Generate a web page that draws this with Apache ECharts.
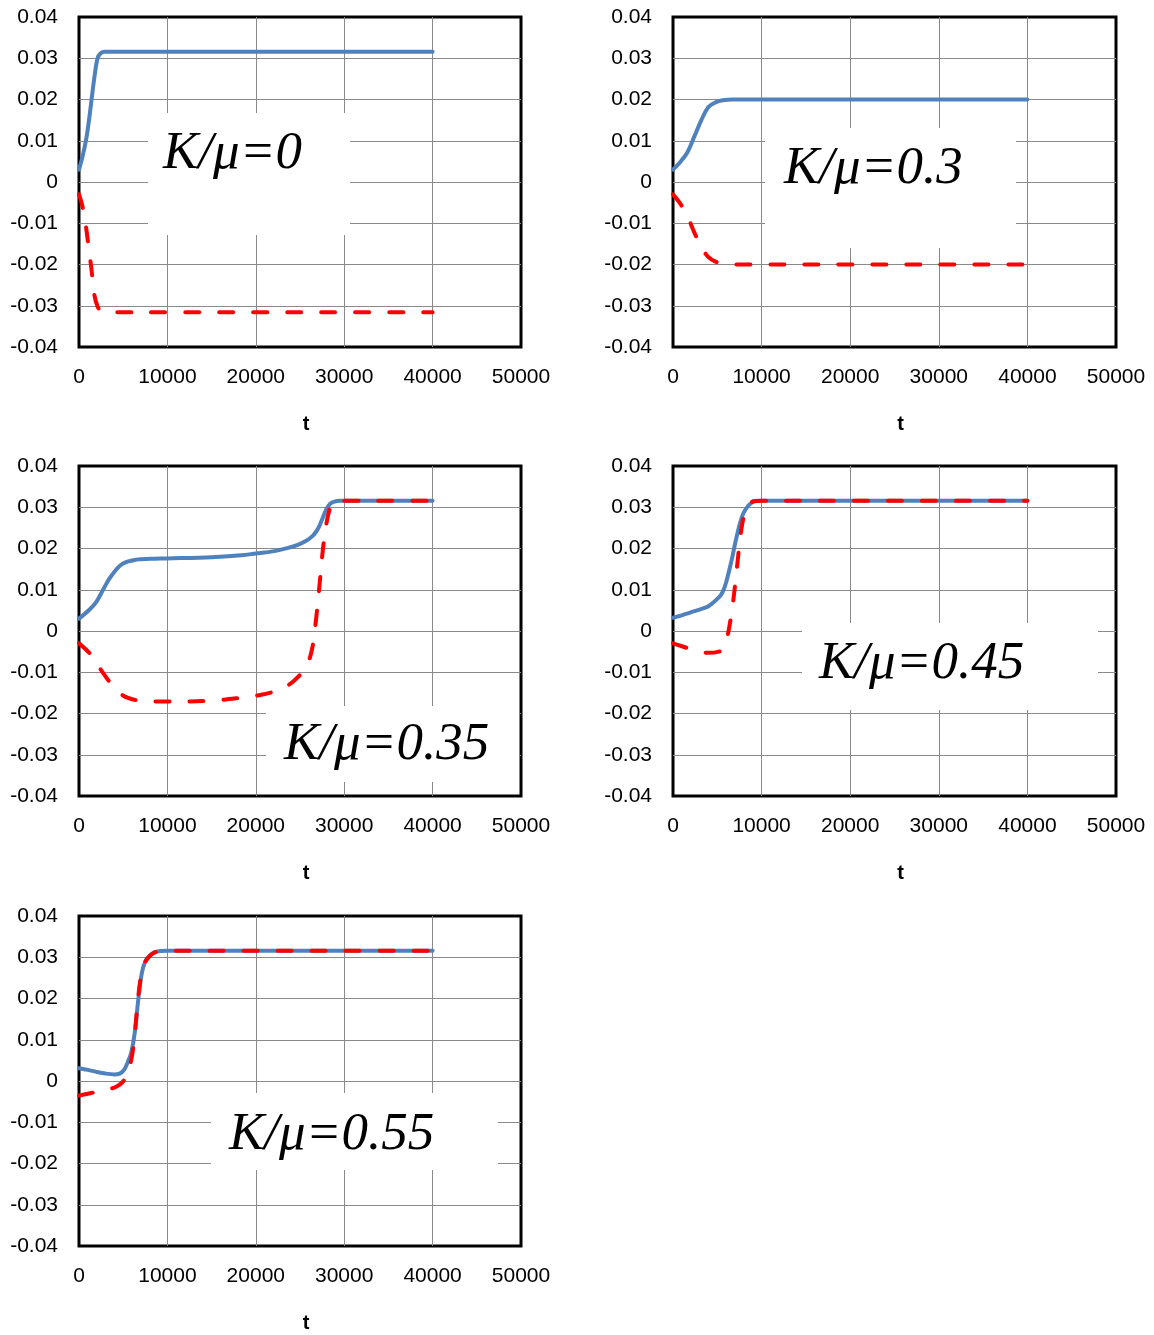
<!DOCTYPE html>
<html>
<head>
<meta charset="utf-8">
<script src="https://cdn.jsdelivr.net/npm/echarts@6/dist/echarts.min.js"></script>
<style>
  html, body { margin: 0; padding: 0; background: #fff; }
  #chart { width: 1154px; height: 1335px; }
</style>
</head>
<body>
<div id="chart"></div>
<script>
// Axis ticks shared by every panel
const X_TICKS = [0, 10000, 20000, 30000, 40000, 50000];
const Y_TICKS = [-0.04, -0.03, -0.02, -0.01, 0, 0.01, 0.02, 0.03, 0.04];

// Panel titles
const RATIO_LABELS = ['K/\u03bc=0', 'K/\u03bc=0.3', 'K/\u03bc=0.35', 'K/\u03bc=0.45', 'K/\u03bc=0.55'];

// K/mu = 0
const tA    = [0, 400, 800, 1100, 1400, 1750, 2100, 2450, 2900, 4000, 10000, 20000, 30000, 40000];
const blueA = [0.0030, 0.0062, 0.0102, 0.0145, 0.0196, 0.0255, 0.0300, 0.0312, 0.0316, 0.0316, 0.0316, 0.0316, 0.0316, 0.0316];
const redA  = [-0.0030, -0.0060, -0.0110, -0.0160, -0.0210, -0.0275, -0.0302, -0.0312, -0.0316, -0.0316, -0.0316, -0.0316, -0.0316, -0.0316];

// K/mu = 0.3
const tB    = [0, 800, 1600, 2400, 3200, 4000, 4800, 5600, 6800, 8000, 10000, 20000, 30000, 40000];
const blueB = [0.0030, 0.0048, 0.0071, 0.0110, 0.0150, 0.0182, 0.0193, 0.0198, 0.0200, 0.0200, 0.0200, 0.0200, 0.0200, 0.0200];
const redB  = [-0.0030, -0.0052, -0.0082, -0.0122, -0.0158, -0.0182, -0.0193, -0.0198, -0.0200, -0.0200, -0.0200, -0.0200, -0.0200, -0.0200];

// K/mu = 0.35
const tC    = [0, 1200, 2000, 2800, 3600, 4870, 6500, 8000, 10000, 15000, 18700, 20000, 21900, 23550, 24750, 25800, 26400, 26800, 27200, 27600, 28000, 28400, 28800, 29500, 30000, 35000, 40000];
const blueC = [0.0030, 0.0052, 0.0072, 0.0103, 0.0132, 0.0162, 0.0173, 0.0175, 0.0176, 0.0179, 0.0184, 0.0188, 0.0193, 0.0201, 0.0209, 0.0220, 0.0230, 0.0240, 0.0255, 0.0276, 0.0296, 0.0308, 0.0313, 0.0316, 0.0316, 0.0316, 0.0316];
const redC  = [-0.0030, -0.0054, -0.0079, -0.0104, -0.0127, -0.0155, -0.0168, -0.0171, -0.0171, -0.0169, -0.0161, -0.0157, -0.0148, -0.0133, -0.0112, -0.0082, -0.0040, 0.0025, 0.0110, 0.0200, 0.0262, 0.0298, 0.0313, 0.0316, 0.0316, 0.0316, 0.0316];

// K/mu = 0.45
const tD    = [0, 1000, 2000, 3000, 4000, 5200, 5600, 6000, 6600, 7000, 7400, 7800, 8200, 8600, 9200, 10000, 20000, 30000, 40000];
const blueD = [0.0032, 0.0038, 0.0045, 0.0052, 0.0060, 0.0082, 0.0094, 0.0118, 0.0170, 0.0211, 0.0248, 0.0278, 0.0295, 0.0306, 0.0314, 0.0316, 0.0316, 0.0316, 0.0316];
const redD  = [-0.0030, -0.0037, -0.0044, -0.0050, -0.0053, -0.0050, -0.0044, -0.0027, 0.0042, 0.0110, 0.0190, 0.0258, 0.0292, 0.0308, 0.0315, 0.0316, 0.0316, 0.0316, 0.0316];

// K/mu = 0.55
const tE    = [0, 1000, 2000, 3000, 4000, 4600, 5100, 5500, 5900, 6300, 6700, 7100, 7500, 8000, 8500, 9200, 10000, 20000, 30000, 40000];
const blueE = [0.0031, 0.0027, 0.0022, 0.0018, 0.0016, 0.0018, 0.0027, 0.0045, 0.0068, 0.0116, 0.0196, 0.0261, 0.0290, 0.0304, 0.0312, 0.0315, 0.0316, 0.0316, 0.0316, 0.0316];
const redE  = [-0.0035, -0.0031, -0.0026, -0.0021, -0.0016, -0.0009, 0.0002, 0.0025, 0.0050, 0.0112, 0.0205, 0.0263, 0.0289, 0.0303, 0.0311, 0.0315, 0.0316, 0.0316, 0.0316, 0.0316];

const SERIES_DATA = [
  [tA, blueA, redA],
  [tB, blueB, redB],
  [tC, blueC, redC],
  [tD, blueD, redD],
  [tE, blueE, redE]
];

// Plot rectangles, white label boxes and title anchors (left, baseline)
const GRIDS = [
  { left: 79,  top: 17,  width: 442, height: 330 },
  { left: 673, top: 17,  width: 443, height: 330 },
  { left: 79,  top: 466, width: 442, height: 330 },
  { left: 673, top: 466, width: 443, height: 330 },
  { left: 79,  top: 916, width: 442, height: 330 }
];
const BOXES = [
  [148, 113, 202, 122],
  [765, 128, 251, 120],
  [266, 706, 253, 76],
  [802, 623, 296, 87],
  [211, 1093, 287, 77]
];
const TITLE_POS = [
  [163, 172],
  [784, 187],
  [284, 763],
  [819, 682],
  [229, 1153]
];

const BLUE = '#4F81BD';
const RED = '#FF0000';
const GRID_LINE = '#8a8a8a';
const TICK_FONT = '"Liberation Sans", Arial, sans-serif';

const zip = (xs, ys) => xs.map((x, i) => [x, ys[i]]);

const grids = GRIDS.map(g => Object.assign({
  show: true,
  borderColor: '#000',
  borderWidth: 3,
  backgroundColor: 'transparent',
  containLabel: false
}, g));

const xAxes = GRIDS.map((g, i) => ({
  type: 'value',
  gridIndex: i,
  min: X_TICKS[0],
  max: X_TICKS[X_TICKS.length - 1],
  interval: X_TICKS[1] - X_TICKS[0],
  axisLine: { show: false },
  axisTick: { show: false },
  splitLine: { show: true, showMinLine: false, showMaxLine: false, lineStyle: { color: GRID_LINE, width: 1 } },
  axisLabel: {
    fontSize: 21, color: '#000', fontFamily: TICK_FONT, margin: 20,
    formatter: v => String(Math.round(v))
  },
  name: 't',
  nameLocation: 'middle',
  nameGap: 67,
  nameTextStyle: { fontSize: 20, fontWeight: 'bold', color: '#000', fontFamily: TICK_FONT, padding: [0, 0, 0, 12] }
}));

const yAxes = GRIDS.map((g, i) => ({
  type: 'value',
  gridIndex: i,
  min: Y_TICKS[0],
  max: Y_TICKS[Y_TICKS.length - 1],
  interval: 0.01,
  axisLine: { show: false },
  axisTick: { show: false },
  splitLine: { show: true, showMinLine: false, showMaxLine: false, lineStyle: { color: GRID_LINE, width: 1 } },
  axisLabel: {
    fontSize: 21, color: '#000', fontFamily: TICK_FONT, margin: 21,
    formatter: v => Math.abs(v) < 1e-9 ? '0' : v.toFixed(2)
  }
}));

const series = [];
SERIES_DATA.forEach(([t, blue, red], i) => {
  series.push({
    type: 'line',
    xAxisIndex: i, yAxisIndex: i,
    data: zip(t, blue),
    showSymbol: false,
    smooth: 0.35,
    z: 2,
    lineStyle: { color: BLUE, width: 4, cap: 'round', join: 'round' }
  });
  series.push({
    type: 'line',
    xAxisIndex: i, yAxisIndex: i,
    data: zip(t, red),
    showSymbol: false,
    smooth: 0.35,
    z: 3,
    lineStyle: { color: RED, width: 4, type: [14, 20], cap: 'round', join: 'round' }
  });
});

const graphics = [];
BOXES.forEach((b, i) => {
  graphics.push({
    type: 'rect',
    z: 1,
    shape: { x: b[0], y: b[1], width: b[2], height: b[3] },
    style: { fill: '#fff' }
  });
  graphics.push({
    type: 'text',
    z: 4,
    x: TITLE_POS[i][0],
    y: TITLE_POS[i][1] - 18,
    style: {
      text: RATIO_LABELS[i],
      font: 'italic 53px "Liberation Serif", "Times New Roman", serif',
      fill: '#000',
      align: 'left',
      verticalAlign: 'middle'
    }
  });
});

const chart = echarts.init(document.getElementById('chart'), null, { renderer: 'canvas' });
chart.setOption({
  animation: false,
  backgroundColor: '#fff',
  grid: grids,
  xAxis: xAxes,
  yAxis: yAxes,
  series: series,
  graphic: { elements: graphics }
});
</script>
</body>
</html>
